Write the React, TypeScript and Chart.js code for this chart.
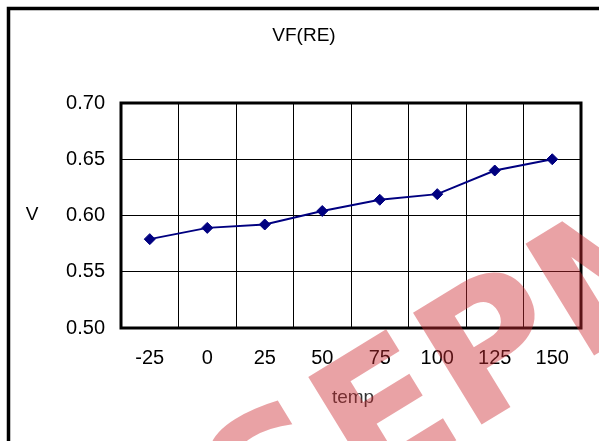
import React, { useEffect, useRef } from "react";
import { Chart, registerables } from "chart.js";

Chart.register(...registerables);

const categories = ["-25", "0", "25", "50", "75", "100", "125", "150"];
const vfValues = [0.579, 0.589, 0.592, 0.604, 0.614, 0.619, 0.640, 0.650];
const yMin = 0.5;
const yMax = 0.7;
const yStep = 0.05;
const chartTitle = "VF(RE)";
const xTitle = "temp";
const yTitle = "V";
const watermark = "SEPM";

const FONT = "'Liberation Sans', Arial, sans-serif";

const decorPlugin = {
  id: "decor",
  beforeDatasetsDraw(chart: any) {
    const { ctx, chartArea: ca } = chart;
    ctx.save();
    ctx.strokeStyle = "#000";
    ctx.lineWidth = 3;
    ctx.strokeRect(ca.left, ca.top, ca.right - ca.left, ca.bottom - ca.top);
    ctx.restore();
  },
  afterDraw(chart: any) {
    const { ctx } = chart;
    ctx.save();
    // outer frame
    ctx.strokeStyle = "#000";
    ctx.lineWidth = 3.5;
    ctx.strokeRect(8.5, 8.5, 800, 700);
    // titles
    ctx.fillStyle = "#000";
    ctx.font = `19px ${FONT}`;
    ctx.textAlign = "center";
    ctx.textBaseline = "middle";
    ctx.fillText(chartTitle, 304, 36);
    ctx.fillText(yTitle, 32, 215);
    ctx.fillStyle = "#333";
    ctx.fillText(xTitle, 353, 398);
    // watermark
    ctx.translate(468, 378);
    ctx.rotate(-0.55);
    ctx.fillStyle = "rgba(205,43,50,0.44)";
    ctx.font = `bold 180px 'DejaVu Sans', sans-serif`;
    ctx.textAlign = "center";
    ctx.textBaseline = "middle";
    ctx.fillText(watermark, 0, 0);
    ctx.restore();
  },
};

export default function App() {
  const ref = useRef<HTMLCanvasElement | null>(null);
  useEffect(() => {
    if (!ref.current) return;
    const chart = new Chart(ref.current, {
      type: "line",
      data: {
        labels: categories,
        datasets: [
          {
            data: vfValues,
            borderColor: "#000080",
            backgroundColor: "#000080",
            borderWidth: 2,
            pointStyle: "rectRot",
            pointRadius: 5.5,
            pointBorderWidth: 1,
            tension: 0,
          },
        ],
      },
      options: {
        responsive: false,
        animation: false,
        layout: { padding: { left: 0, top: 103, right: 18, bottom: 0 } },
        plugins: {
          legend: { display: false },
          title: { display: false },
          tooltip: { enabled: false },
        },
        scales: {
          x: {
            type: "category",
            offset: true,
            grid: { offset: true, color: "#000", lineWidth: 1, drawTicks: false },
            border: { display: false },
            ticks: { color: "#000", font: { family: FONT, size: 20 }, padding: 18, maxRotation: 0 },
            afterFit: (s: any) => {
              s.height = 441 - 328;
            },
          },
          y: {
            min: yMin,
            max: yMax,
            grid: { color: "#000", lineWidth: 1, drawTicks: false },
            border: { display: false },
            ticks: {
              stepSize: yStep,
              color: "#000",
              font: { family: FONT, size: 20 },
              padding: 16,
              callback: (v: any) => Number(v).toFixed(2),
            },
            afterFit: (s: any) => {
              s.width = 121;
            },
          },
        },
      },
      plugins: [decorPlugin],
    });
    return () => chart.destroy();
  }, []);
  return (
    <div style={{ position: "absolute", left: 0, top: 0, width: 599, height: 441, background: "#fff" }}>
      <canvas ref={ref} width={599} height={441} />
    </div>
  );
}
